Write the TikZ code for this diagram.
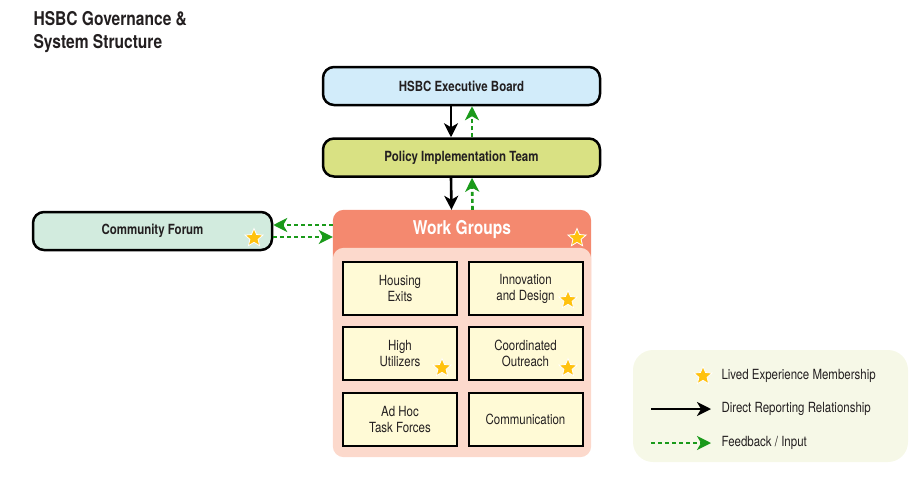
\documentclass[tikz,border=0pt]{standalone}
\usepackage{fontspec}
\setmainfont{TeX Gyre Heros}[FakeStretch=0.82]
\usetikzlibrary{arrows.meta,shapes.geometric}

\definecolor{execblue}{HTML}{D2ECFA}
\definecolor{policygreen}{HTML}{D9E183}
\definecolor{forummint}{HTML}{D2EBDE}
\definecolor{wgheader}{HTML}{F4896F}
\definecolor{wgbody}{HTML}{FCD9CC}
\definecolor{itemyellow}{HTML}{FFFAD6}
\definecolor{legendbg}{HTML}{F6F8E7}
\definecolor{stargold}{HTML}{FFC20E}
\definecolor{feedgreen}{HTML}{1A9A1A}
\definecolor{inkdark}{HTML}{231F20}

\begin{document}
\begin{tikzpicture}[x=1pt, y=-1pt,
  every node/.style={text=inkdark},
  bigbox/.style={draw=black, line width=2.5pt, rounded corners=11pt, minimum width=277pt, minimum height=38pt, font=\bfseries\fontsize{14}{16}\selectfont},
  wgitem/.style={draw=black, line width=2pt, fill=itemyellow, minimum width=114pt, minimum height=53pt, align=center, font=\fontsize{14}{16}\selectfont},
  livedstar/.style={star, star points=5, star point ratio=2.2, fill=stargold, draw=white, line width=0.8pt, minimum size=19pt, inner sep=0pt},
  report/.style={-{Stealth[length=14pt, width=14pt, inset=4pt]}, line width=2.6pt, black},
  feedback/.style={-{Stealth[length=14pt, width=14pt, inset=4pt]}, line width=2.6pt, feedgreen, dash pattern=on 4pt off 3pt},
  legendtext/.style={anchor=west, font=\fontsize{14}{16}\selectfont}
]
\useasboundingbox (0,0) rectangle (924,477);

% title
\node[anchor=north west, align=left, font=\bfseries\fontsize{19}{23}\selectfont] (title) at (30,8) {HSBC Governance \&\\System Structure};

% top of the hierarchy
\node[bigbox, fill=execblue] (exec) at (461.5,86) {HSBC Executive Board};
\node[bigbox, fill=policygreen] (policy) at (461.5,157.5) {Policy Implementation Team};

% work groups container
\node[minimum width=258pt, minimum height=247pt, inner sep=0pt] (wg) at (462,333.5) {};
\fill[wgheader, rounded corners=11pt] (wg.north west) rectangle ([yshift=-120pt]wg.north east);
\fill[wgbody, rounded corners=11pt] ([yshift=-38pt]wg.north west) rectangle (wg.south east);
\node[text=white, font=\bfseries\fontsize{19}{22}\selectfont] (wgtitle) at (462,230) {Work Groups};
\node[livedstar] (wgstar) at (577,238) {};

\node[wgitem] (housing) at (400,288.5) {Housing\\Exits};
\node[wgitem] (innov) at (525.5,288.5) {Innovation\\and Design};
\node[wgitem] (highutil) at (400,353.5) {High\\Utilizers};
\node[wgitem] (outreach) at (525.5,353.5) {Coordinated\\Outreach};
\node[wgitem] (adhoc) at (400,419.5) {Ad Hoc\\Task Forces};
\node[wgitem] (comms) at (525.5,419.5) {Communication};
\node[livedstar] at (568,300) {};
\node[livedstar] at (442,368) {};
\node[livedstar] at (568,368) {};

% community forum
\node[bigbox, fill=forummint, minimum width=239pt] (forum) at (152.5,231) {Community Forum};
\node[livedstar] (forumstar) at (254,238) {};

% reporting and feedback lines
\draw[report] ([xshift=-10.5pt]exec.south) -- ([xshift=-10.5pt]policy.north);
\draw[feedback] ([xshift=10.5pt]policy.north) -- ([xshift=10.5pt]exec.south);
\draw[report] ([xshift=-10.5pt]policy.south) -- ([xshift=-10.5pt]wg.north);
\draw[feedback] ([xshift=10.5pt]wg.north) -- ([xshift=10.5pt]policy.south);
\draw[feedback] ([yshift=6pt]forum.east -| wg.west) -- ([yshift=6pt]forum.east);
\draw[feedback] ([yshift=-6pt]forum.east) -- ([yshift=-6pt]forum.east -| wg.west);

% legend
\node[fill=legendbg, rounded corners=20pt, minimum width=275pt, minimum height=112pt] (legend) at (770.5,406) {};
\node[livedstar] (legstar) at (703,376) {};
\node[legendtext] (legstartext) at (718,376) {Lived Experience Membership};
\coordinate (repfrom) at (651,409);
\coordinate (repto) at (711,409);
\draw[report, line width=2.3pt] (repfrom) -- (repto);
\node[legendtext] (reptext) at (718,409) {Direct Reporting Relationship};
\coordinate (feedfrom) at (651,443);
\coordinate (feedto) at (711,443);
\draw[feedback, line width=2pt] (feedfrom) -- (feedto);
\node[legendtext] (feedtext) at (718,443) {Feedback / Input};

\end{tikzpicture}
\end{document}
